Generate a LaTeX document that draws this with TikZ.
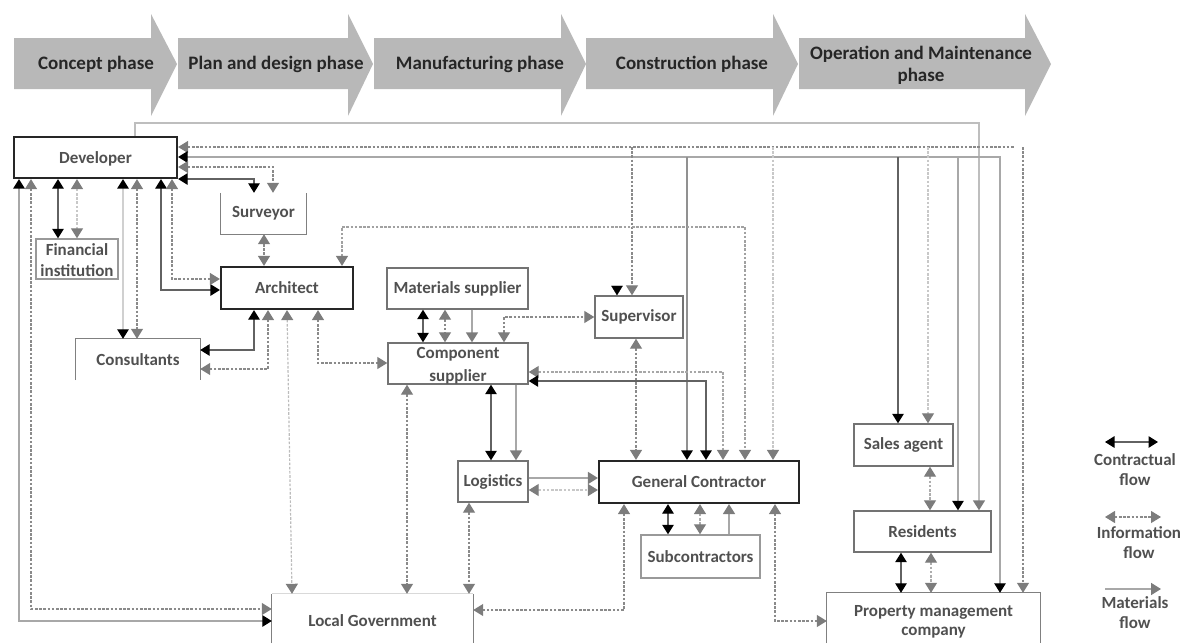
\documentclass[tikz,border=0pt]{standalone}
\usepackage{fontspec}
\setmainfont{Carlito}
\usetikzlibrary{arrows.meta}
\definecolor{cline}{HTML}{626262}
\definecolor{iline}{HTML}{8A8A8A}
\definecolor{ilight}{HTML}{C8C8C8}
\definecolor{mline}{HTML}{A8A8A8}
\definecolor{mlight}{HTML}{D0D0D0}
\definecolor{head}{HTML}{7C7C7C}
\definecolor{phasefill}{HTML}{B8B8B8}
\definecolor{boxtext}{HTML}{505050}
\tikzset{
 ch/.tip={Triangle[length=9.5pt,width=11.5pt,color=black]},
 gh/.tip={Triangle[length=10pt,width=12pt,color=head]},
 con/.style={draw=cline,line width=1.2pt,ch-ch},
 conl/.style={draw=mline,line width=1.3pt,ch-ch},
 info/.style={draw=iline,line width=1.2pt,dash pattern=on 2.6pt off 1.6pt,gh-gh},
 infol/.style={draw=ilight,line width=1.2pt,dash pattern=on 2.6pt off 1.6pt,gh-gh},
 mat/.style={draw=mline,line width=1.7pt,-gh},
 matl/.style={draw=mlight,line width=1.7pt,-gh},
 phase/.style={fill=phasefill,draw=none},
 phasetext/.style={font=\fontsize{19}{22}\selectfont\bfseries,text=black!85,align=center},
 boxbase/.style={font=\fontsize{17}{21}\selectfont\bfseries,text=boxtext,align=center,inner sep=0pt},
 thickbox/.style={boxbase,draw=black!85,line width=2.2pt},
 midbox/.style={boxbase,draw=black!55,line width=1.4pt},
 openbox/.style={boxbase},
 side/.style={draw=black!50,line width=1.3pt},
 sidel/.style={draw=black!15,line width=1pt},
 legendtext/.style={font=\fontsize{17}{20}\selectfont\bfseries,text=boxtext,align=center},
}
\newcommand{\boxat}[7]{\node[#1,minimum width=#5pt-#3pt,minimum height=#6pt-#4pt] (#2) at ({(#3+#5)/2},{(#4+#6)/2}) {#7};}
\newcommand{\phasearrow}[4]{\path[phase] (#1,38) -- (#2,38) -- (#2,14) -- (#3,64) -- (#2,116) -- (#2,89) -- (#1,89) -- cycle;}
\newcommand{\lowertext}[2]{\raisebox{0pt}[\dimexpr\height+#1\relax]{#2}}
\begin{document}
\begin{tikzpicture}[x=1pt,y=-1pt]
\useasboundingbox (0,0) rectangle (1184,643);
% phases
\phasearrow{14}{151}{177}{}
\phasearrow{178}{348}{373}{}
\phasearrow{374}{561}{586}{}
\phasearrow{586}{773}{798}{}
\phasearrow{799}{1025}{1051}{}
\node[phasetext] (p1) at (96,64) {Concept phase};
\node[phasetext] (p2) at (276,64) {Plan and design phase};
\node[phasetext] (p3) at (480,64) {Manufacturing phase};
\node[phasetext] (p4) at (692,64) {Construction phase};
\node[phasetext] (p5) at (921,65) {Operation and Maintenance\\phase};
% boxes
\boxat{thickbox}{dev}{14}{137}{177}{178}{\lowertext{2pt}{Developer}}
\boxat{openbox}{sur}{221}{193}{306}{234}{Surveyor}
\boxat{midbox,draw=black!40}{fin}{36}{239}{118}{279}{\lowertext{3pt}{\shortstack{Financial\\[6pt]institution}}}
\boxat{thickbox}{arc}{221}{267}{353}{309}{Architect}
\boxat{openbox}{cons}{76}{339}{200}{380}{Consultants}
\boxat{midbox}{mats}{387}{268}{528}{309}{Materials supplier}
\boxat{midbox}{comp}{388}{343}{528}{384}{\lowertext{4pt}{\shortstack{Component\\[5pt]supplier}}}
\boxat{midbox}{sup}{595}{296}{683}{338}{Supervisor}
\boxat{midbox}{log}{458}{461}{528}{502}{Logistics}
\boxat{thickbox}{gc}{599}{461}{799}{503}{General Contractor}
\boxat{midbox,draw=black!40}{sub}{641}{535}{760}{578}{Subcontractors}
\boxat{openbox}{lg}{272}{594}{473}{643}{\lowertext{5pt}{Local Government}}
\boxat{openbox}{pmc}{827}{593}{1040}{643}{\lowertext{8pt}{\shortstack{Property management\\[5pt]company}}}
\boxat{midbox}{sal}{854}{424}{953}{466}{Sales agent}
\boxat{midbox}{res}{854}{511}{991}{552}{Residents}
% open box sides
\draw[side] (sur.north west) -- (sur.south west) -- (sur.south east) -- (sur.north east);
\draw[side] (cons.south west) -- (cons.north west) -- (cons.north east) -- (cons.south east);
\draw[side] (lg.south west) -- (lg.north west);
\draw[side] (lg.north east) -- (lg.south east);
\draw[sidel] (lg.north west) -- (lg.north east);
\draw[side] (pmc.south west) -- (pmc.north west) -- (pmc.north east) -- (pmc.south east);
% horizontal bus levels
\coordinate (bm) at (0,123);
\coordinate (bi) at (0,147);
\coordinate (bc) at (0,157);
% long top lines
\draw[matl,draw=mline!75] (135,0 |- dev.north) -- (135,0 |- bm) -| (979,0 |- res.north);
\draw[info,gh-{}] (dev.east |- bi) -- (1015,0 |- bi);
\draw[info,{}-gh] (1023,0 |- bi) -- (1023,0 |- pmc.north);
\draw[con,draw=mline] (dev.east |- bc) -| (1000,0 |- pmc.north);
% branches off the top lines
\draw[con,{}-ch] (898,0 |- bc) -- (898,0 |- sal.north);
\draw[conl,{}-ch] (958,0 |- bc) -- (958,0 |- res.north);
\draw[infol,{}-gh] (928,0 |- bi) -- (928,0 |- sal.north);
\draw[info,{}-gh] (632,0 |- bi) -- (632,0 |- sup.north);
\draw[info,{}-gh,draw=ilight] (773,0 |- bi) -- (773,0 |- gc.north);
\draw[con,{}-ch,draw=cline!70] (687,0 |- bc) -- (687,0 |- gc.north);
\coordinate (supstub) at (617,287);
\draw[con,{}-ch,draw=white,line width=0.2pt] (supstub) -- (617,0 |- sup.north);
% developer to surveyor
\draw[con] (dev.east |- 0,179) -| (254,0 |- sur.north);
\draw[info] (dev.east |- 0,167) -| (273,0 |- sur.north);
% developer bottom
\draw[conl] (19,0 |- dev.south) |- (lg.west |- 0,621);
\draw[info] (31,0 |- dev.south) |- (lg.west |- 0,609);
\draw[con] (58,0 |- dev.south) -- (58,0 |- fin.north);
\draw[infol] (77,0 |- dev.south) -- (77,0 |- fin.north);
\draw[conl,draw=mlight] (123,0 |- dev.south) -- (123,0 |- cons.north);
\draw[info] (137,0 |- dev.south) -- (137,0 |- cons.north);
\draw[con] (161,0 |- dev.south) |- (arc.west |- 0,290);
\draw[info] (172,0 |- dev.south) |- (arc.west |- 0,279);
% architect
\draw[info] (264,0 |- sur.south) -- (264,0 |- arc.north);
\draw[info,draw=iline!80] (342,0 |- arc.north) -- (342,227) -- (745,227) -- (745,0 |- gc.north);
\draw[con] (254,0 |- arc.south) |- (cons.east |- 0,350);
\draw[info] (268,0 |- arc.south) |- (cons.east |- 0,369);
\draw[infol,draw=ilight!80!iline] (287,0 |- arc.south) -- (292,0 |- lg.north);
\draw[info] (318,0 |- arc.south) |- (comp.west |- 0,363);
% materials / component
\draw[con] (423,0 |- mats.south) -- (423,0 |- comp.north);
\draw[info] (445,0 |- mats.south) -- (445,0 |- comp.north);
\draw[mat] (472,0 |- mats.south) -- (472,0 |- comp.north);
\draw[info] (504,0 |- comp.north) |- (sup.west |- 0,317);
\draw[info] (407,0 |- comp.south) -- (407,0 |- lg.north);
\draw[con] (491,0 |- comp.south) -- (491,0 |- log.north);
\draw[mat] (516,0 |- comp.south) -- (516,0 |- log.north);
\draw[info,draw=iline!75] (comp.east |- 0,372) -| (723,0 |- gc.north);
\draw[con] (comp.east |- 0,381) -| (706,0 |- gc.north);
% supervisor to contractor
\draw[info] (636,0 |- sup.south) -- (636,0 |- gc.north);
% logistics
\draw[mat] (log.east |- 0,478) -- (gc.west |- 0,478);
\draw[infol] (log.east |- 0,490) -- (gc.west |- 0,490);
\draw[info] (469,0 |- log.south) -- (469,0 |- lg.north);
% contractor
\draw[con] (668,0 |- gc.south) -- (668,0 |- sub.north);
\draw[infol,draw=iline!70] (700,0 |- gc.south) -- (700,0 |- sub.north);
\draw[mat] (729,0 |- sub.north) -- (729,0 |- gc.south);
\draw[info] (624,0 |- gc.south) |- (lg.east |- 0,610);
\draw[info] (775,0 |- gc.south) |- (pmc.west |- 0,621);
% sales, residents, property
\draw[infol,draw=iline!70] (930,0 |- sal.south) -- (930,0 |- res.north);
\draw[con] (901,0 |- res.south) -- (901,0 |- pmc.north);
\draw[infol,draw=iline!70] (931,0 |- res.south) -- (931,0 |- pmc.north);
% legend
\node[legendtext] (l1) at (1135,470) {Contractual\\flow};
\node[legendtext] (l2) at (1139,543) {Information\\flow};
\node[legendtext] (l3) at (1135,613) {Materials\\flow};
\coordinate (l1a) at (1105,442); \coordinate (l1b) at (1158,442);
\coordinate (l2a) at (1105,517); \coordinate (l2b) at (1161,517);
\coordinate (l3a) at (1105,589); \coordinate (l3b) at (1161,589);
\draw[con] (l1a) -- (l1b);
\draw[info] (l2a) -- (l2b);
\draw[mat] (l3a) -- (l3b);
\end{tikzpicture}
\end{document}
